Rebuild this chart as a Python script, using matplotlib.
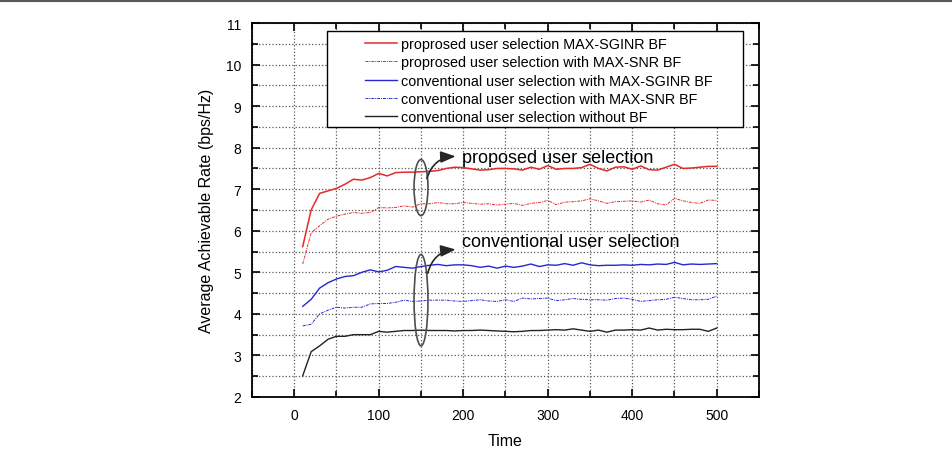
import numpy as np
import matplotlib
matplotlib.use("Agg")
import matplotlib.pyplot as plt
from matplotlib.patches import Ellipse, Rectangle
from matplotlib.lines import Line2D
from matplotlib.ticker import MultipleLocator

plt.rcParams['font.family'] = ['Liberation Sans', 'DejaVu Sans']

time = np.arange(10, 501, 10)

prop_sginr = [5.62, 6.50, 6.90, 6.96, 7.02, 7.12, 7.24, 7.22, 7.28, 7.38,
              7.32, 7.40, 7.41, 7.41, 7.42, 7.43, 7.45, 7.50, 7.53, 7.52,
              7.49, 7.46, 7.47, 7.50, 7.50, 7.49, 7.46, 7.53, 7.48, 7.57,
              7.48, 7.50, 7.50, 7.52, 7.60, 7.50, 7.44, 7.53, 7.54, 7.48,
              7.56, 7.47, 7.46, 7.53, 7.60, 7.50, 7.51, 7.53, 7.55, 7.55]
prop_snr = [5.20, 5.95, 6.12, 6.28, 6.35, 6.40, 6.44, 6.42, 6.44, 6.56,
            6.55, 6.56, 6.60, 6.57, 6.65, 6.65, 6.68, 6.65, 6.65, 6.68,
            6.66, 6.64, 6.65, 6.62, 6.64, 6.66, 6.61, 6.66, 6.68, 6.73,
            6.63, 6.69, 6.70, 6.72, 6.77, 6.72, 6.66, 6.70, 6.71, 6.72,
            6.69, 6.74, 6.65, 6.62, 6.78, 6.72, 6.68, 6.66, 6.74, 6.73]
conv_sginr = [4.18, 4.35, 4.62, 4.75, 4.84, 4.90, 4.92, 5.00, 5.06, 5.01,
              5.05, 5.14, 5.12, 5.10, 5.14, 5.17, 5.19, 5.16, 5.18, 5.18,
              5.16, 5.12, 5.15, 5.10, 5.15, 5.12, 5.15, 5.20, 5.14, 5.18,
              5.17, 5.21, 5.17, 5.23, 5.18, 5.16, 5.17, 5.17, 5.18, 5.17,
              5.19, 5.18, 5.20, 5.19, 5.24, 5.18, 5.20, 5.19, 5.20, 5.21]
conv_snr = [3.71, 3.75, 4.00, 4.09, 4.16, 4.14, 4.16, 4.16, 4.24, 4.25,
            4.25, 4.28, 4.33, 4.30, 4.31, 4.33, 4.33, 4.33, 4.31, 4.30,
            4.32, 4.34, 4.31, 4.30, 4.34, 4.30, 4.38, 4.36, 4.37, 4.38,
            4.32, 4.34, 4.37, 4.35, 4.34, 4.34, 4.33, 4.37, 4.38, 4.35,
            4.30, 4.32, 4.34, 4.35, 4.40, 4.37, 4.34, 4.34, 4.35, 4.43]
conv_nobf = [2.51, 3.09, 3.23, 3.39, 3.46, 3.46, 3.50, 3.50, 3.50, 3.58,
             3.56, 3.58, 3.60, 3.60, 3.61, 3.60, 3.60, 3.60, 3.59, 3.60,
             3.60, 3.61, 3.60, 3.59, 3.58, 3.57, 3.58, 3.60, 3.60, 3.61,
             3.62, 3.61, 3.64, 3.61, 3.58, 3.61, 3.56, 3.61, 3.61, 3.62,
             3.61, 3.66, 3.61, 3.63, 3.62, 3.62, 3.63, 3.63, 3.58, 3.66]

labels = ['proprosed user selection MAX-SGINR BF',
          'proprosed user selection with MAX-SNR BF',
          'conventional user selection with MAX-SGINR BF',
          'conventional user selection with MAX-SNR BF',
          'conventional user selection without BF']

red = '#e42a2a'
blue = '#2626d2'
dashdot = (0, (3, 1, 1, 1))

fig = plt.figure(figsize=(9.53, 4.6), dpi=100)
ax = fig.add_axes([252 / 953, 62 / 460, 507 / 953, 374 / 460])

ax.plot(time, prop_sginr, color=red, lw=1.1, label=labels[0])
ax.plot(time, prop_snr, color=red, lw=0.7, ls=dashdot, label=labels[1])
ax.plot(time, conv_sginr, color=blue, lw=1.0, label=labels[2])
ax.plot(time, conv_snr, color=blue, lw=0.7, ls=dashdot, label=labels[3])
ax.plot(time, conv_nobf, color='#222222', lw=1.0, label=labels[4])

ax.set_xlim(-50, 550)
ax.set_ylim(2, 11)
ax.xaxis.set_major_locator(MultipleLocator(100))
ax.xaxis.set_minor_locator(MultipleLocator(50))
ax.yaxis.set_major_locator(MultipleLocator(1))
ax.yaxis.set_minor_locator(MultipleLocator(0.5))
ax.tick_params(which='both', direction='in', top=True, right=True, width=1.2)
ax.tick_params(which='major', length=6, labelsize=10, pad=8)
ax.tick_params(which='minor', length=4)
ax.grid(True, which='both', color='0.35', ls=':', lw=0.9)
for s in ax.spines.values():
    s.set_linewidth(1.3)

ax.set_xlabel('Time', fontsize=11.5, labelpad=8)
ax.set_ylabel('Average Achievable Rate (bps/Hz)', fontsize=11.5, labelpad=8)

# legend with a wide box
ax.add_patch(Rectangle((75 / 507, 1 - 104 / 374), 416 / 507, 96 / 374,
                       transform=ax.transAxes, facecolor='white',
                       edgecolor='black', lw=1.0, zorder=4))
leg = ax.legend(loc='upper left', bbox_to_anchor=(113 / 507, 1 - 14 / 374),
                frameon=False, fontsize=10.4, handlelength=2.2,
                handletextpad=0.3, labelspacing=0.3, borderpad=0,
                borderaxespad=0)
leg.set_zorder(5)

# ellipses + arrows
ax.add_patch(Ellipse((150, 7.04), 16.5, 1.35, fill=False, edgecolor='0.3', lw=1.2, zorder=6))
ax.add_patch(Ellipse((150, 4.33), 16.5, 2.2, fill=False, edgecolor='0.3', lw=1.2, zorder=6))
arrow = dict(arrowstyle='-|>,head_length=0.9,head_width=0.35', color='0.15',
             lw=1.2, connectionstyle='arc3,rad=-0.35', shrinkA=0, shrinkB=0)
ax.annotate('', xy=(191, 7.79), xytext=(157, 7.26), arrowprops=arrow, zorder=6)
ax.annotate('', xy=(191, 5.55), xytext=(158, 4.98), arrowprops=arrow, zorder=6)
ax.text(199, 7.77, 'proposed user selection', fontsize=13, va='center', ha='left', zorder=6)
ax.text(199, 5.73, 'conventional user selection', fontsize=13, va='center', ha='left', zorder=6)

fig.add_artist(Line2D([0, 1], [1 - 2 / 460, 1 - 2 / 460], color='0.35', lw=1.5))

fig.savefig('out.png', dpi=100)
